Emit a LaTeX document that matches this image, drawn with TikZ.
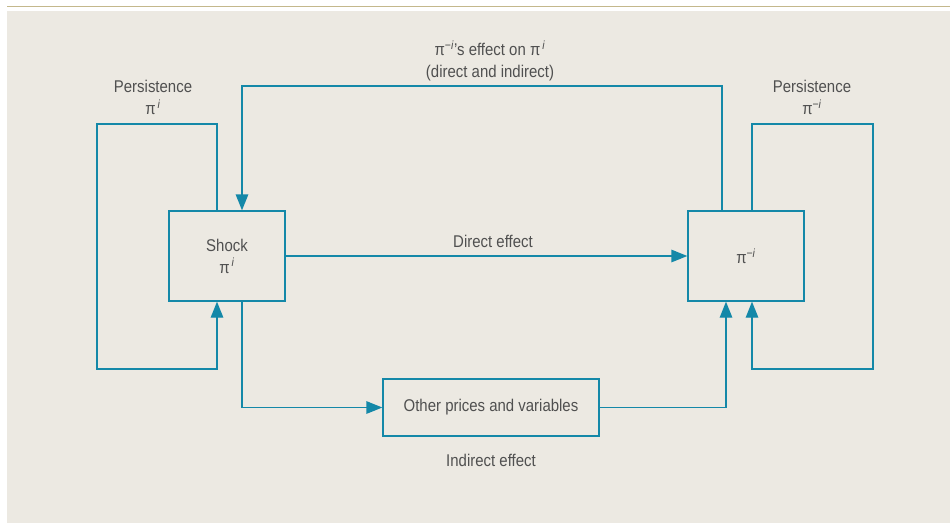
\documentclass[tikz,border=0pt]{standalone}
\usepackage{fontspec}
\setmainfont[FakeStretch=0.88]{Liberation Sans}
\usetikzlibrary{arrows.meta}
\definecolor{panel}{RGB}{236,233,226}
\definecolor{rule}{RGB}{196,184,140}
\definecolor{flowc}{RGB}{20,136,168}
\definecolor{inkc}{RGB}{80,80,80}
\newcommand{\pii}{π\textsuperscript{\,\textit{i}}}
\newcommand{\pimi}{π\textsuperscript{−\textit{i}}}
\begin{document}
\begin{tikzpicture}[x=1pt,y=-1pt,
  every node/.style={text=inkc,font=\fontsize{17}{22}\selectfont},
  box/.style={draw=flowc,line width=1.3pt,minimum width=116pt,minimum height=90pt,inner sep=0pt,align=center},
  flow/.style={draw=flowc,line width=1.3pt},
  arr/.style={flow,-{Triangle[length=16pt,width=12.5pt]}},
  lbl/.style={align=center,inner sep=0pt}]
  % page background and top rule
  \useasboundingbox (0,0) rectangle (950,523);
  \fill[white] (0,0) rectangle (950,523);
  \fill[panel] (7,11) rectangle (950,523);
  \draw[rule,line width=1.5pt] (7,6.5) -- (950,6.5);

  % boxes
  \node[box] (shock) at (227,256) {Shock\\\pii};
  \node[box] (target) at (746,256) {\pimi};
  \node[box,minimum width=216pt,minimum height=57pt] (other) at (491,407.5) {Other prices and variables};

  % corner points of the loops
  \coordinate (lp) at (97,124);
  \coordinate (lpb) at (97,369);
  \coordinate (rp) at (873,124);
  \coordinate (rpb) at (873,369);
  \coordinate (topc) at (480,86);

  % persistence loops
  \draw[arr] ([xshift=-10pt]shock.north) |- (lp) -- (lpb) -| ([xshift=-10pt]shock.south);
  \draw[arr] ([xshift=6pt]target.north) |- (rp) -- (rpb) -| ([xshift=6pt]target.south);

  % feedback from target to shock
  \draw[arr] ([xshift=-24pt]target.north) |- (topc) -| ([xshift=15pt]shock.north);

  % direct effect
  \draw[arr] (shock.east) -- (target.west);

  % indirect effect through other prices
  \draw[arr] ([xshift=15pt]shock.south) |- (other.west);
  \draw[arr] (other.east) -| ([xshift=-20pt]target.south);

  % labels
  \node[lbl] (lpl) at (153,97.5) {Persistence\\\pii};
  \node[lbl] (rpl) at (812,97.5) {Persistence\\\pimi};
  \node[lbl] (topl) at (490,61) {π\textsuperscript{−\textit{i}}’s effect on \pii\\(direct and indirect)};
  \node[lbl] (dl) at (493,241) {Direct effect};
  \node[lbl] (il) at (491,460) {Indirect effect};
\end{tikzpicture}
\end{document}
